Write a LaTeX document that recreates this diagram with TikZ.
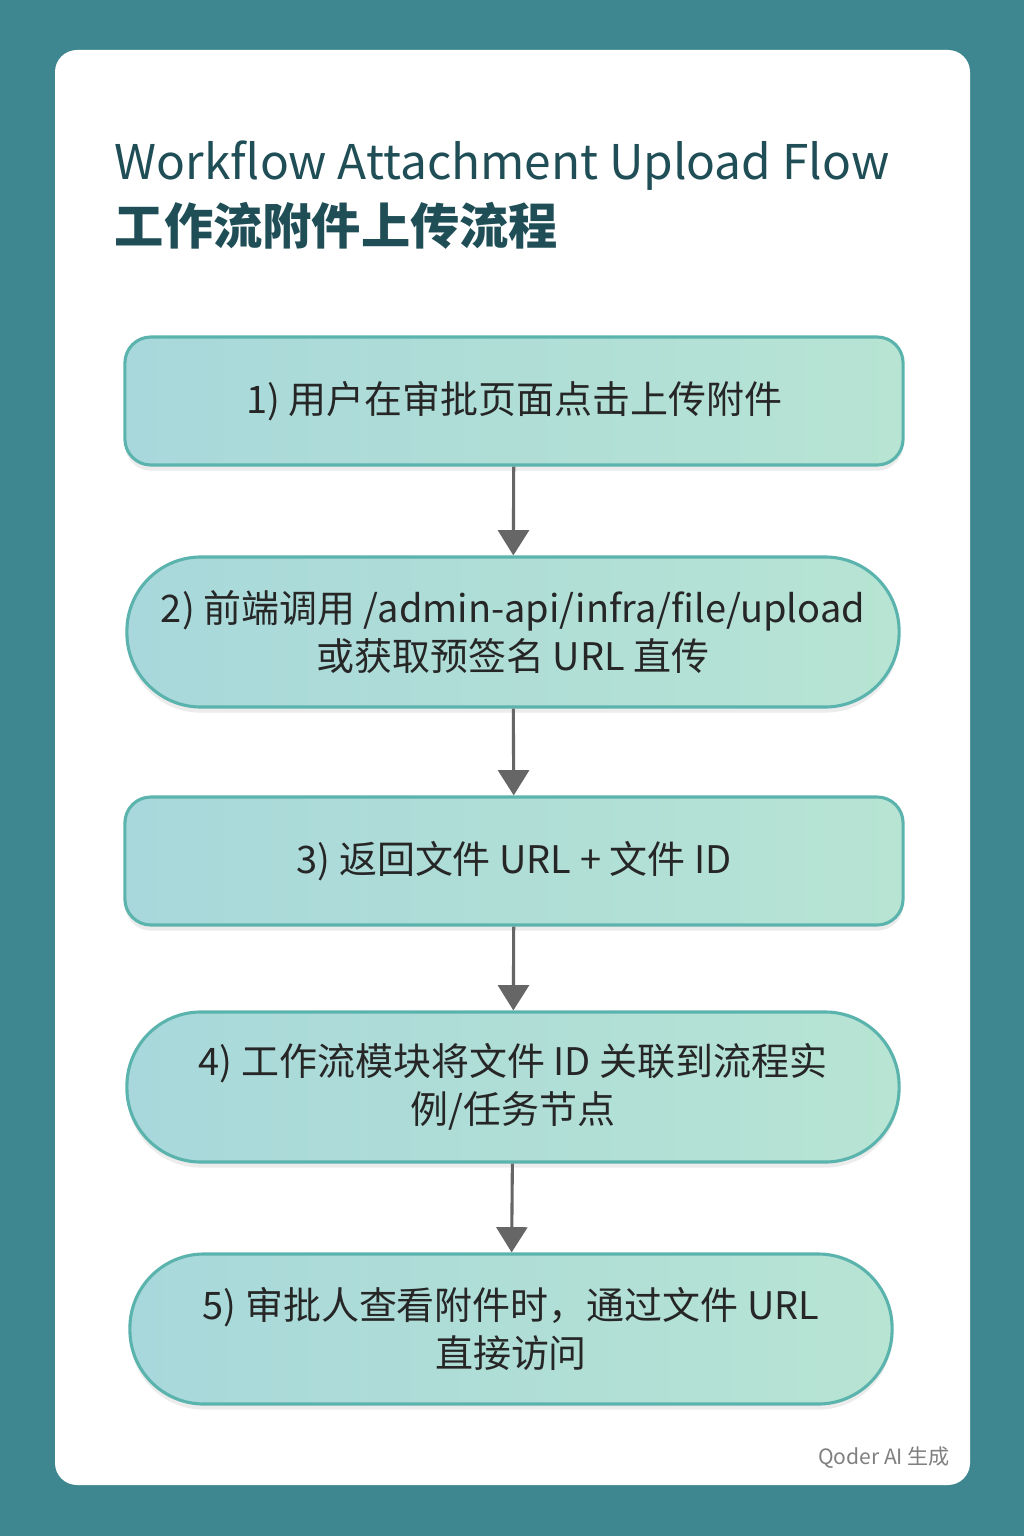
\documentclass[tikz,border=0pt]{standalone}
\usepackage{fontspec}
\setmainfont{Noto Sans CJK SC}
\usetikzlibrary{arrows.meta,positioning,shadows}
\definecolor{bgteal}{HTML}{3F8790}
\definecolor{titleteal}{HTML}{1F4E56}
\definecolor{boxleft}{HTML}{A8D8DB}
\definecolor{boxright}{HTML}{B7E4D3}
\definecolor{boxline}{HTML}{5BB3AD}
\definecolor{arrowgray}{HTML}{666666}
\tikzset{
  flowstep/.style={draw=boxline,line width=2.2pt,left color=boxleft,right color=boxright,
    font=\fontsize{27}{34}\selectfont,text=black!85,align=center,
    drop shadow={opacity=0.15,shadow xshift=0pt,shadow yshift=-4pt}},
  box/.style={flowstep,rounded corners=0.65cm,minimum width=19.45cm,minimum height=3.2cm},
  pill/.style={flowstep,rounded corners=1.85cm,minimum width=19.3cm,minimum height=3.75cm},
  flow/.style={draw=arrowgray,line width=2.2pt,-{Triangle[length=18pt,width=22pt]}}
}
\begin{document}
\begin{tikzpicture}[x=0.025cm,y=-0.025cm]
	%background and card
	\fill[bgteal] (0,0) rectangle (1024,1536);
	\fill[white,rounded corners=0.55cm] (55,50) rectangle (970,1485);

	%title
	\node[anchor=base west,text=titleteal,font=\fontsize{34}{44}\selectfont] (title) at (110,180) {Workflow Attachment Upload Flow};
	\node[anchor=base west,text=titleteal,font=\fontsize{35}{44}\selectfont\bfseries] (subtitle) at (110,245) {工作流附件上传流程};

	%steps
	\node[box] (s1) at (514,401) {1) 用户在审批页面点击上传附件};
	\node[pill] (s2) at (513,632) {2) 前端调用 /admin-api/infra/file/upload\\或获取预签名 URL 直传};
	\node[box] (s3) at (514,861) {3) 返回文件 URL + 文件 ID};
	\node[pill] (s4) at (513,1087) {4) 工作流模块将文件 ID 关联到流程实\\例/任务节点};
	\node[pill,minimum width=19.05cm] (s5) at (511,1329) {5) 审批人查看附件时，通过文件 URL\\直接访问};

	%arrows
	\draw[flow] (s1) -- (s2);
	\draw[flow] (s2) -- (s3);
	\draw[flow] (s3) -- (s4);
	\draw[flow] (s4) -- (s5);

	%footer
	\node[anchor=east,text=black!50,font=\fontsize{15}{18}\selectfont] (footer) at (955,1458) {Qoder AI 生成};
\end{tikzpicture}
\end{document}
